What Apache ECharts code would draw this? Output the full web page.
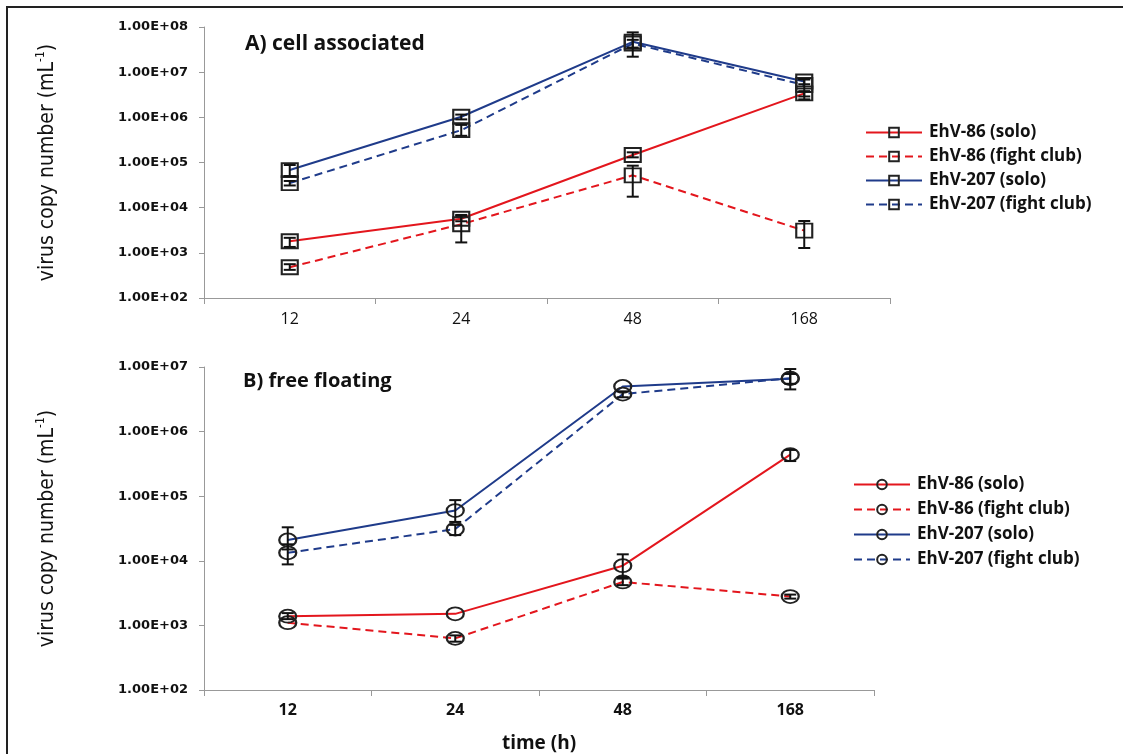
<!DOCTYPE html>
<html>
<head>
<meta charset="utf-8">
<script src="https://cdn.jsdelivr.net/npm/echarts@6/dist/echarts.min.js"></script>
<style>
html,body{margin:0;padding:0;background:#fff;}
#chart{width:1123px;height:754px;}
</style>
</head>
<body>
<div id="chart"></div>
<script>
// ---------- data ----------
const categories = ['12', '24', '48', '168'];
const seriesNames = ['EhV-86 (solo)', 'EhV-86 (fight club)', 'EhV-207 (solo)', 'EhV-207 (fight club)'];

// A) cell associated
const cell86Solo   = [1800, 5700, 147000, 3400000];
const cell86Fight  = [480, 4300, 52000, 3100];
const cell207Solo  = [68000, 1030000, 47000000, 6200000];
const cell207Fight = [35000, 520000, 43000000, 5200000];
const cell86SoloErr   = [[1350, 2150], [5000, 6600], [130000, 168000], [2900000, 3800000]];
const cell86FightErr  = [[420, 560], [1700, 6900], [17500, 85000], [1280, 5070]];
const cell207SoloErr  = [[50000, 88000], [900000, 1150000], [22000000, 76000000], [5400000, 7000000]];
const cell207FightErr = [[31000, 39000], [390000, 680000], [35000000, 52000000], [2500000, 6900000]];

// B) free floating
const free86Solo   = [1390, 1510, 8400, 440000];
const free86Fight  = [1100, 630, 4700, 2800];
const free207Solo  = [21000, 60000, 5000000, 6600000];
const free207Fight = [13300, 31000, 3800000, 6700000];
const free86SoloErr   = [[1250, 1550], null, [5600, 12600], [350000, 520000]];
const free86FightErr  = [null, [560, 700], [4200, 5300], [2600, 3000]];
const free207SoloErr  = [[15000, 33000], [40000, 87000], null, [4500000, 9300000]];
const free207FightErr = [[8800, 18000], [25000, 36000], [3400000, 4200000], [5500000, 7800000]];

// ---------- styles ----------
const RED = '#e3161d';
const BLUE = '#1f3b8a';
const textFont = "'Open Sans', 'DejaVu Sans', sans-serif";
const tickFont = "'DejaVu Sans', sans-serif";
const axisNameFont = "'Liberation Sans Narrow', 'DejaVu Sans Condensed', 'Roboto', sans-serif";

function expLabel(v) {
  const e = Math.round(Math.log10(v));
  return '1.00E+' + String(e).padStart(2, '0');
}

function lineSeries(prefix, idx, data, color, dashed, symbol, symbolSize, axisIndex) {
  return {
    type: 'line',
    name: prefix + '|' + seriesNames[idx],
    xAxisIndex: axisIndex,
    yAxisIndex: axisIndex,
    data: data,
    symbol: symbol,
    symbolSize: symbolSize,
    showAllSymbol: true,
    lineStyle: { color: color, width: 2, type: dashed ? [8, 5] : 'solid' },
    itemStyle: { color: 'rgba(255,255,255,0)', borderColor: '#222', borderWidth: 2 },
    emphasis: { disabled: true },
    z: 3
  };
}

function errSeries(prefix, idx, errs, axisIndex) {
  const d = [];
  errs.forEach((e, i) => { if (e) d.push([i, e[0], e[1]]); });
  return {
    type: 'custom',
    name: prefix + '|' + seriesNames[idx],
    xAxisIndex: axisIndex,
    yAxisIndex: axisIndex,
    data: d,
    encode: { x: 0, y: [1, 2] },
    z: 4,
    silent: true,
    renderItem: function (params, api) {
      const x = api.value(0);
      const lo = api.coord([x, api.value(1)]);
      const hi = api.coord([x, api.value(2)]);
      const w = 6;
      const st = { stroke: '#111', lineWidth: 2, fill: null };
      return {
        type: 'group',
        children: [
          { type: 'line', shape: { x1: lo[0], y1: lo[1], x2: hi[0], y2: hi[1] }, style: st },
          { type: 'line', shape: { x1: lo[0] - w, y1: lo[1], x2: lo[0] + w, y2: lo[1] }, style: st },
          { type: 'line', shape: { x1: hi[0] - w, y1: hi[1], x2: hi[0] + w, y2: hi[1] }, style: st }
        ]
      };
    }
  };
}

const chart = echarts.init(document.getElementById('chart'), null, { renderer: 'canvas' });

const yAxisCommon = {
  type: 'log',
  logBase: 10,
  nameLocation: 'middle',
  nameGap: 143,
  nameRotate: 90,
  nameTextStyle: {
    rich: {
      a: { fontFamily: axisNameFont, fontSize: 21, color: '#111', lineHeight: 26 },
      s: { fontFamily: axisNameFont, fontSize: 12, color: '#111', lineHeight: 26, verticalAlign: 'top', padding: [0, 0, 8, 0] }
    }
  },
  name: '{a|virus copy number (mL}{s|-1}{a|)}',
  axisLine: { show: true, lineStyle: { color: '#999', width: 1 } },
  axisTick: { show: true, length: 5, lineStyle: { color: '#999' } },
  minorTick: { show: false },
  splitLine: { show: false },
  axisLabel: {
    formatter: expLabel,
    fontFamily: tickFont,
    fontWeight: 'bold',
    fontSize: 13,
    color: '#111',
    margin: 16
  }
};

const option = {
  animation: false,
  backgroundColor: '#fff',
  graphic: [
    { type: 'rect', shape: { x: 7, y: 7, width: 1300, height: 900 }, style: { fill: null, stroke: '#222', lineWidth: 2 }, silent: true, z: 100 }
  ],
  title: [
    { text: 'A) cell associated', left: 240, top: 29, textStyle: { fontFamily: textFont, fontWeight: 'bold', fontSize: 21, color: '#111' } },
    { text: 'B) free floating', left: 238, top: 366, textStyle: { fontFamily: textFont, fontWeight: 'bold', fontSize: 20, color: '#111' } }
  ],
  legend: [
    {
      left: 860, top: 119, orient: 'vertical', itemWidth: 56, itemHeight: 12, itemGap: 7,
      data: seriesNames.map(n => 'A|' + n),
      formatter: n => n.split('|')[1],
      textStyle: { fontFamily: textFont, fontWeight: 'bold', fontSize: 17, lineHeight: 14, color: '#111', padding: [0, 0, 0, 2] },
      selectedMode: false
    },
    {
      left: 848, top: 471, orient: 'vertical', itemWidth: 56, itemHeight: 12, itemGap: 8,
      data: seriesNames.map(n => 'B|' + n),
      formatter: n => n.split('|')[1],
      textStyle: { fontFamily: textFont, fontWeight: 'bold', fontSize: 17, lineHeight: 14, color: '#111', padding: [0, 0, 0, 2] },
      selectedMode: false
    }
  ],
  grid: [
    { left: 204, top: 27, width: 686, height: 271 },
    { left: 204, top: 367, width: 670, height: 331 }
  ],
  xAxis: [
    {
      type: 'category', gridIndex: 0, data: categories, boundaryGap: true,
      axisLine: { lineStyle: { color: '#999' } },
      axisTick: { show: true, length: 6, lineStyle: { color: '#999' } },
      axisLabel: { fontFamily: textFont, fontSize: 16, color: '#111', margin: 13 }
    },
    {
      type: 'category', gridIndex: 1, data: categories, boundaryGap: true,
      name: 'time (h)', nameLocation: 'middle', nameGap: 44,
      nameTextStyle: { fontFamily: textFont, fontWeight: 'bold', fontSize: 19, color: '#111' },
      axisLine: { lineStyle: { color: '#999' } },
      axisTick: { show: true, length: 6, lineStyle: { color: '#999' } },
      axisLabel: { fontFamily: textFont, fontWeight: 'bold', fontSize: 16, color: '#111', margin: 12 }
    }
  ],
  yAxis: [
    Object.assign({}, yAxisCommon, { gridIndex: 0, min: 100, max: 100000000 }),
    Object.assign({}, yAxisCommon, { gridIndex: 1, min: 100, max: 10000000 })
  ],
  series: [
    lineSeries('A', 0, cell86Solo, RED, false, 'rect', [16, 14], 0),
    lineSeries('A', 1, cell86Fight, RED, true, 'rect', [16, 14], 0),
    lineSeries('A', 2, cell207Solo, BLUE, false, 'rect', [16, 14], 0),
    lineSeries('A', 3, cell207Fight, BLUE, true, 'rect', [16, 14], 0),
    errSeries('A', 0, cell86SoloErr, 0),
    errSeries('A', 1, cell86FightErr, 0),
    errSeries('A', 2, cell207SoloErr, 0),
    errSeries('A', 3, cell207FightErr, 0),
    lineSeries('B', 0, free86Solo, RED, false, 'circle', [17, 13], 1),
    lineSeries('B', 1, free86Fight, RED, true, 'circle', [17, 13], 1),
    lineSeries('B', 2, free207Solo, BLUE, false, 'circle', [17, 13], 1),
    lineSeries('B', 3, free207Fight, BLUE, true, 'circle', [17, 13], 1),
    errSeries('B', 0, free86SoloErr, 1),
    errSeries('B', 1, free86FightErr, 1),
    errSeries('B', 2, free207SoloErr, 1),
    errSeries('B', 3, free207FightErr, 1)
  ]
};

chart.setOption(option);
</script>
</body>
</html>
